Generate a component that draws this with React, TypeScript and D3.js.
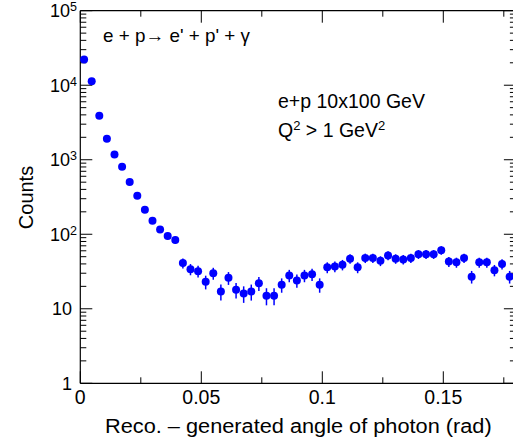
import React from "react";
import * as d3 from "d3";

const binWidth = 0.00314;
const counts = [
  22100, 11300, 3880, 1910, 1178, 804, 501, 328, 213, 152, 116, 95, 84, 41, 34,
  32, 23, 30, 17, 26, 18, 16, 17, 22, 15, 15, 21, 28, 24, 28, 29, 21, 36, 37,
  39, 47, 36, 48, 48, 44, 52, 47, 46, 48, 54, 54, 54, 61, 43, 42, 48, 27, 42,
  42, 33, 40, 27,
];
const xTicks = [0, 0.05, 0.1, 0.15];
const xTickLabels = ["0", "0.05", "0.1", "0.15"];
const xMinorTicks = [0.025, 0.075, 0.125, 0.175];
const yDecades = [0, 1, 2, 3, 4, 5];

const W = 513;
const H = 446;
const left = 80.3;
const right = 515.9;
const top = 10.7;
const bottom = 383.3;
const FONT = "'Liberation Sans', Arial, Helvetica, sans-serif";
const BLUE = "#0000ff";

export default function App() {
  const x = d3.scaleLinear().domain([0, 0.18]).range([left, right]);
  const y = d3.scaleLog().domain([1, 1e5]).range([bottom, top]);

  const points = counts.map((c, i) => ({ xv: (i + 0.5) * binWidth, c }));

  const yMinor: number[] = [];
  for (const d of yDecades.slice(0, -1)) {
    for (let k = 2; k <= 9; k++) yMinor.push(k * Math.pow(10, d));
  }

  return (
    <svg
      width={W}
      height={H}
      style={{ position: "absolute", left: 0, top: 0, background: "#fff" }}
      fontFamily={FONT}
    >
      <rect x={0} y={0} width={W} height={H} fill="#fff" />
      {/* frame */}
      <g stroke="#000" strokeWidth={1.2} fill="none">
        <line x1={left} y1={bottom} x2={right} y2={bottom} />
        <line x1={left} y1={top} x2={right} y2={top} />
        <line x1={left} y1={top} x2={left} y2={bottom} />
        <line x1={right} y1={top} x2={right} y2={bottom} />
      </g>
      {/* ticks */}
      <g stroke="#000" strokeWidth={1}>
        {xTicks.map((t) => (
          <g key={"xt" + t}>
            <line x1={x(t)} x2={x(t)} y1={bottom} y2={bottom - 12} />
            <line x1={x(t)} x2={x(t)} y1={top} y2={top + 12} />
          </g>
        ))}
        {xMinorTicks.map((t) => (
          <g key={"xm" + t}>
            <line x1={x(t)} x2={x(t)} y1={bottom} y2={bottom - 6} />
            <line x1={x(t)} x2={x(t)} y1={top} y2={top + 6} />
          </g>
        ))}
        {yDecades.map((d) => {
          const v = Math.pow(10, d);
          return (
            <g key={"yt" + d}>
              <line x1={left} x2={left + 12} y1={y(v)} y2={y(v)} />
              <line x1={right} x2={right - 12} y1={y(v)} y2={y(v)} />
            </g>
          );
        })}
        {yMinor.map((v) => (
          <g key={"ym" + v}>
            <line x1={left} x2={left + 6} y1={y(v)} y2={y(v)} />
            <line x1={right} x2={right - 6} y1={y(v)} y2={y(v)} />
          </g>
        ))}
      </g>
      {/* x tick labels */}
      <g fontSize={19.5} fill="#000" textAnchor="middle">
        {xTicks.map((t, i) => (
          <text key={"xl" + t} x={x(t)} y={404}>
            {xTickLabels[i]}
          </text>
        ))}
      </g>
      {/* y tick labels */}
      <g fontSize={18} fill="#000" textAnchor="end">
        {yDecades.map((d) => {
          const yy = y(Math.pow(10, d)) + 6.5;
          if (d === 0)
            return (
              <text key={"yl" + d} x={72} y={yy}>
                1
              </text>
            );
          if (d === 1)
            return (
              <text key={"yl" + d} x={72} y={yy}>
                10
              </text>
            );
          return (
            <text key={"yl" + d} x={77} y={yy}>
              10
              <tspan fontSize={12.5} dy={-6}>
                {d}
              </tspan>
            </text>
          );
        })}
      </g>
      {/* axis titles */}
      <text
        x={105}
        y={432.7}
        fontSize={20}
        textLength={386.7}
        lengthAdjust="spacingAndGlyphs"
        fill="#000"
      >
        Reco. – generated angle of photon (rad)
      </text>
      <text
        transform={`translate(33.3,197.5) rotate(-90)`}
        fontSize={20}
        textAnchor="middle"
        fill="#000"
      >
        Counts
      </text>
      {/* annotations */}
      <text
        x={103}
        y={41.5}
        fontSize={19}
        textLength={147}
        lengthAdjust="spacingAndGlyphs"
        fill="#000"
      >
        e + p→ e' + p' + γ
      </text>
      <text x={278} y={107.7} fontSize={19.5} fill="#000">
        e+p 10x100 GeV
      </text>
      <text x={278} y={136.7} fontSize={19.5} fill="#000">
        Q<tspan fontSize={13} dy={-7}>2</tspan>
        <tspan dy={7}> &gt; 1 GeV</tspan>
        <tspan fontSize={13} dy={-7}>2</tspan>
      </text>
      {/* data */}
      <g>
        {points.map((p, i) => {
          const e = Math.sqrt(p.c);
          const lo = Math.max(p.c - e, 1);
          return (
            <line
              key={"e" + i}
              x1={x(p.xv)}
              x2={x(p.xv)}
              y1={y(lo)}
              y2={y(p.c + e)}
              stroke={BLUE}
              strokeWidth={1.5}
            />
          );
        })}
        {points.map((p, i) => (
          <circle key={"p" + i} cx={x(p.xv)} cy={y(p.c)} r={4} fill={BLUE} />
        ))}
      </g>
    </svg>
  );
}
